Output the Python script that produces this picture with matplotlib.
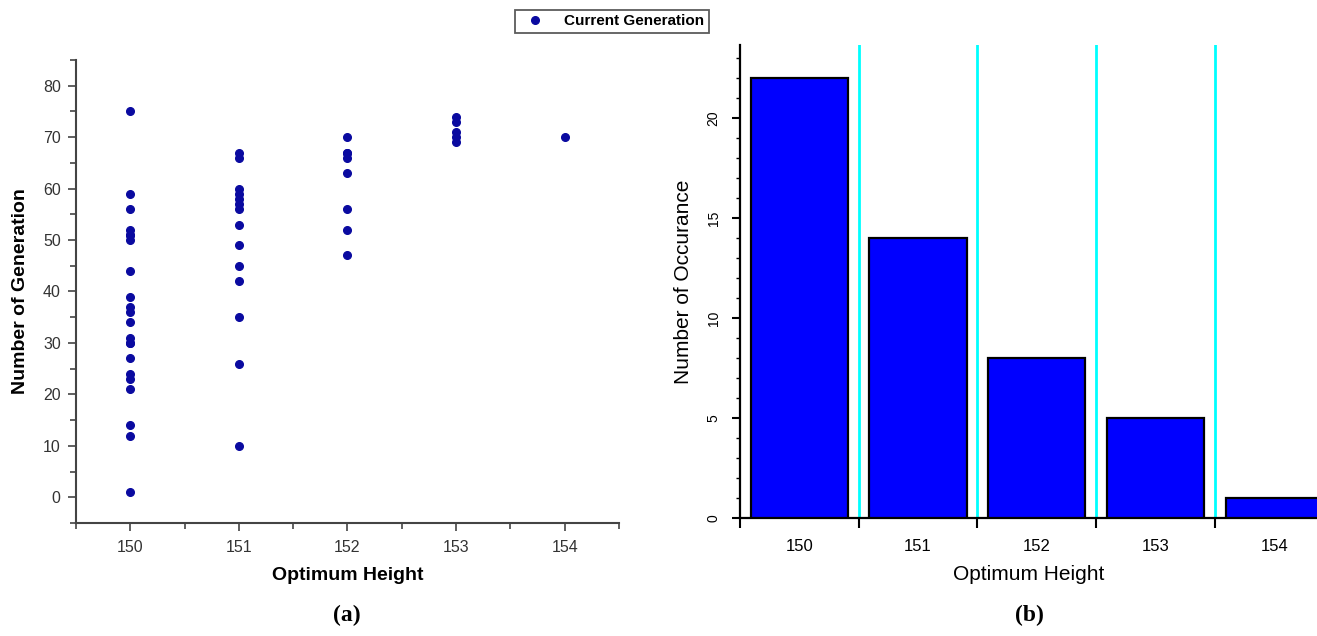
import matplotlib.pyplot as plt
import numpy as np

plt.rcParams['font.family'] = ['Liberation Sans', 'DejaVu Sans']

# scatter: optimum height vs generation where it was found
h150 = [75, 59, 56, 52, 51, 51, 50, 44, 39, 37, 36, 34, 31, 30, 30, 27, 24, 23, 21, 14, 12, 1]
h151 = [67, 66, 60, 59, 58, 57, 56, 53, 49, 45, 42, 35, 26, 10]
h152 = [70, 67, 67, 66, 63, 56, 52, 47]
h153 = [74, 73, 71, 70, 69]
h154 = [70]
gen_groups = {150: h150, 151: h151, 152: h152, 153: h153, 154: h154}

# histogram of occurrences
heights = [150, 151, 152, 153, 154]
occurrences = [22, 14, 8, 5, 1]

fig = plt.figure(figsize=(13.17, 6.36), dpi=100)
navy = '#0a0aa0'
gray = '#333333'

# ---- (a) scatter ----
ax0 = fig.add_axes([0.0577, 0.1777, 0.4123, 0.728])
xs = np.concatenate([[k] * len(v) for k, v in gen_groups.items()])
ys = np.concatenate([v for v in gen_groups.values()])
ax0.plot(xs, ys, 'o', color=navy, markersize=5.5, linestyle='none', label='Current Generation')
ax0.set_xticks(heights)
ax0.set_xticks(np.arange(149.5, 155, 1), minor=True)
ax0.set_yticks(np.arange(0, 81, 10))
ax0.set_yticks(np.arange(-5, 86, 5), minor=True)
ax0.set_xlim(149.5, 154.5)
ax0.set_ylim(-5, 85)
for s in ('top', 'right'):
    ax0.spines[s].set_visible(False)
for s in ('left', 'bottom'):
    ax0.spines[s].set_color('#444444')
    ax0.spines[s].set_linewidth(1.5)
ax0.tick_params(which='both', direction='out', color='#444444', width=1.2)
ax0.tick_params(which='major', length=6, labelsize=11.5, labelcolor=gray, pad=6)
ax0.tick_params(axis='y', which='major', pad=5)
ax0.tick_params(which='minor', length=4)
ax0.set_xlabel('Optimum Height', fontsize=14, fontweight='bold', labelpad=9)
ax0.set_ylabel('Number of Generation', fontsize=14, fontweight='bold', labelpad=10)
leg = fig.legend(loc='center', bbox_to_anchor=(0.4645, 0.9665), frameon=True, fancybox=False,
                 edgecolor='#333333', prop={'weight': 'bold', 'size': 11}, handletextpad=0.9,
                 borderpad=0.3, borderaxespad=0, markerscale=1.0)
leg.get_frame().set_linewidth(1.3)

# ---- (b) histogram ----
ax1 = fig.add_axes([0.5619, 0.1855, 0.4381, 0.7437])
ax1.bar(heights, occurrences, width=0.82, color='#0000ff', edgecolor='black', linewidth=1.6, zorder=3)
bounds = np.arange(150.5, 154.6, 1)
for b in bounds:
    ax1.axvline(b, color='#00ffff', linewidth=2, zorder=1)
ax1.set_xticks(np.arange(149.5, 155, 1))
ax1.set_xticklabels([])
ax1.set_xticks(heights, minor=True)
ax1.set_xticklabels([str(h) for h in heights], minor=True)
ax1.set_yticks([0, 5, 10, 15, 20])
ax1.set_yticks(np.arange(0, 24, 1), minor=True)
ax1.set_xlim(149.5, 154.36)
ax1.set_ylim(0, 23.65)
for s in ('top', 'right'):
    ax1.spines[s].set_visible(False)
for s in ('left', 'bottom'):
    ax1.spines[s].set_linewidth(1.6)
ax1.tick_params(axis='x', which='major', length=7, width=1.5, direction='out')
ax1.tick_params(axis='x', which='minor', length=0, labelsize=12, pad=15)
ax1.tick_params(axis='y', which='major', length=6, width=1.5, labelsize=10, labelrotation=90, pad=8)
ax1.tick_params(axis='y', which='minor', length=3, width=1)
for t in ax1.get_yticklabels():
    t.set_va('center')
ax1.set_xlabel('Optimum Height', fontsize=15, labelpad=8)
ax1.set_ylabel('Number of Occurance', fontsize=15, labelpad=10)

# captions
fig.text(0.2635, 0.033, '(a)', ha='center', va='center', fontsize=17, fontweight='bold',
         family=['Liberation Serif', 'DejaVu Serif'])
fig.text(0.782, 0.033, '(b)', ha='center', va='center', fontsize=17, fontweight='bold',
         family=['Liberation Serif', 'DejaVu Serif'])

fig.savefig('out.png', dpi=100)
